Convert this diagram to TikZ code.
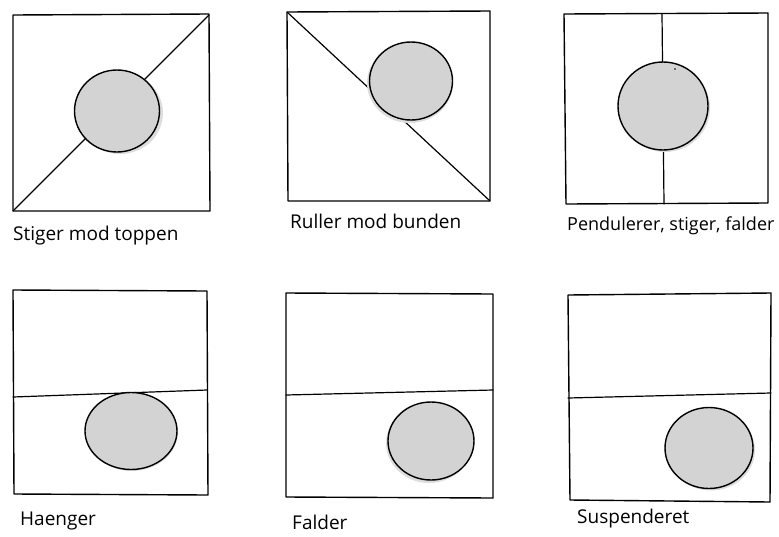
\documentclass[tikz,border=0pt]{standalone}
\usepackage{fontspec}
\setmainfont{Open Sans}
\definecolor{ballfill}{HTML}{D3D3D3}
\definecolor{ballshadow}{HTML}{DDDDDD}
\tikzset{
  frame/.style={draw=black, line width=1.4pt, line join=round},
  rail/.style={draw=black, line width=1.2pt, line cap=round},
  ball/.style={draw=black, line width=1.4pt, fill=ballfill},
  shadow/.style={fill=ballshadow},
  caption/.style={anchor=base west, inner sep=0pt, font=\fontsize{19}{21}\selectfont}
}
\begin{document}
\begin{tikzpicture}[x=1pt,y=-1pt]
\useasboundingbox (0,0) rectangle (779,536);
% Panel 1
\draw[frame] (13,15) -- (209,14) -- (210,211) -- (13,211) -- cycle;
\draw[rail] (13,211) -- (209,15);
\fill[shadow] (120,113) ellipse [x radius=43, y radius=41];
\draw[ball] (117,111) ellipse [x radius=42.5, y radius=41];
\node[caption] (c1) at (13,240) {Stiger mod toppen};
% Panel 2
\draw[frame] (287,12) -- (490,11) -- (490,201) -- (288,201) -- cycle;
\draw[rail] (287,12) -- (490,201);
\fill[shadow] (410,83) ellipse [x radius=43, y radius=40];
\draw[ball] (411,81) ellipse [x radius=41.5, y radius=39];
\node[caption] (c2) at (290,228) {Ruller mod bunden};
% Panel 3
\draw[frame] (564,14) -- (768,13) -- (768,203) -- (566,204) -- cycle;
\draw[rail] (662,14) -- (664,204);
\fill[shadow] (665,108) ellipse [x radius=45, y radius=44];
\draw[ball] (663,106) ellipse [x radius=45, y radius=44];
\fill (675,69) circle (0.8);
\node[caption, font=\fontsize{18}{20}\selectfont] (c3) at (567,230) {Pendulerer, stiger, falder};
% Panel 4
\draw[frame] (13,290) -- (207,291) -- (208,495) -- (14,494) -- cycle;
\draw[rail] (13,397) -- (207,390);
\fill[shadow] (132,432) ellipse [x radius=46, y radius=39];
\draw[ball] (131,431) ellipse [x radius=46, y radius=38.5];
\node[caption] (c4) at (20,525) {Haenger};
% Panel 5
\draw[frame] (286,293) -- (493,294) -- (493,498) -- (286,497) -- cycle;
\draw[rail] (286,395) -- (493,390);
\fill[shadow] (429,443) ellipse [x radius=43, y radius=40];
\draw[ball] (431,441) ellipse [x radius=43, y radius=39];
\node[caption] (c5) at (292,529) {Falder};
% Panel 6
\draw[frame] (568,295) -- (771,293) -- (770,502) -- (570,500) -- cycle;
\draw[rail] (568,398) -- (771,393);
\fill[shadow] (711,450) ellipse [x radius=44, y radius=40.5];
\draw[ball] (709,448) ellipse [x radius=44, y radius=40.5];
\node[caption] (c6) at (577,523) {Suspenderet};
\end{tikzpicture}
\end{document}
